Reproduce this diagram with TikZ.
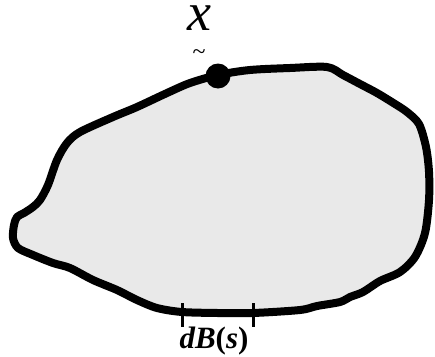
\documentclass[tikz,border=0pt]{standalone}
\usepackage{fontspec}
\setmainfont{Liberation Serif}
\usepackage{tikz}
\usetikzlibrary{positioning}
\definecolor{blobfill}{RGB}{233,233,233}

\begin{document}
\begin{tikzpicture}[
  x=1pt, y=-1pt,
  blob/.style={draw=black, fill=blobfill, line width=8pt, line join=round},
  tickmark/.style={draw=black, line width=3pt},
  ptdot/.style={circle, fill=black, inner sep=0pt, minimum size=25pt},
  lbl/.style={inner sep=0pt},
]
\useasboundingbox (0,0) rectangle (435,356);
% region boundary
\draw[blob] plot[smooth cycle, tension=0.5] coordinates {
  (218,75) (250,70) (290,68) (327,67) (343,75) (360,84) (377,93) (395,104)
  (407,112) (419,124) (426,147) (429,172) (429,200) (425,233) (415,257)
  (400,272) (380,281) (363,292) (350,297) (340,302) (317,306) (300,310)
  (253,313) (218,313) (182,312) (157,308) (137,300) (117,290) (93,280)
  (70,268) (53,263) (33,255) (18,248) (13,238) (14,225) (17,217) (24,213)
  (33,207) (40,200) (48,185) (57,160) (67,143) (80,132) (113,117) (137,107)
  (167,93) (190,83)};
% boundary element
\draw[tickmark] (182,303) -- (182,327);
\draw[tickmark] (253,303) -- (253,327);
\node[lbl, anchor=base] (db) at (214,348) {\fontsize{31}{31}\selectfont\bfseries\itshape dB\upshape(\itshape s\upshape)};
% point on the boundary
\node[ptdot] (p) at (218,76) {};
\node[lbl, anchor=base] (xl) at (199,30) {\fontsize{54}{54}\selectfont\itshape x};
\node[lbl, anchor=center] (tl) at (199,55) {\fontsize{24}{24}\selectfont\textasciitilde};
\end{tikzpicture}
\end{document}
